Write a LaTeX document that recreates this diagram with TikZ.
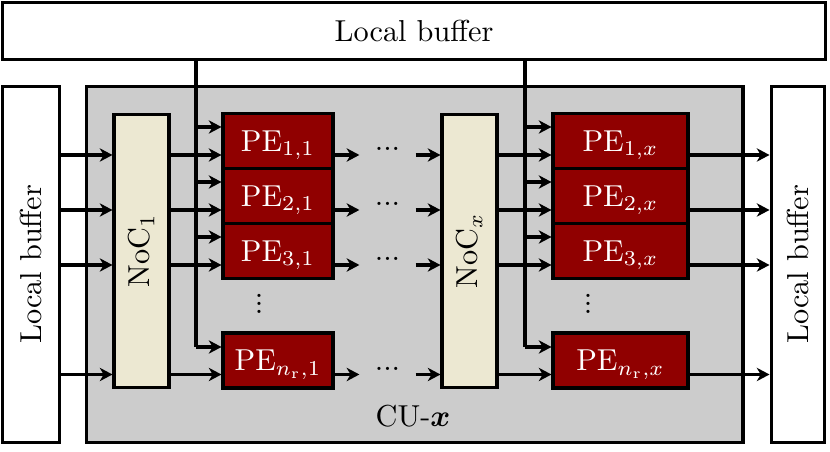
\documentclass[tikz,border=0pt]{standalone}
\usepackage{amsmath}
\usepackage{bm}
\usetikzlibrary{arrows.meta}

\definecolor{pered}{RGB}{144,0,0}
\definecolor{nocbeige}{RGB}{236,232,210}
\definecolor{cugray}{RGB}{204,204,204}

\newcommand{\smallvdots}{\vbox{\baselineskip2.7pt\lineskiplimit0pt\hbox{.}\hbox{.}\hbox{.}}}

\begin{document}
\begin{tikzpicture}[x=0.33pt,y=-0.33pt,
	box/.style={draw=black,line width=1pt,inner sep=0pt},
	buf/.style={box,fill=white},
	pe/.style={box,fill=pered,text=white,minimum height=18.15pt,text depth=0pt},
	noc/.style={box,fill=nocbeige,minimum width=18.15pt,minimum height=90.4pt},
	arr/.style={-{Stealth[length=4.2pt,width=4.4pt,inset=1.3pt]},line width=1pt},
	dotsbox/.style={inner sep=0pt,minimum width=18.15pt,text height=0pt,text depth=2.9pt}]
	
	\useasboundingbox (0,0) rectangle (830,452);
	
	\node[box,fill=cugray,minimum width=216.8pt,minimum height=117.2pt] (cu) at (414.5, 264.5) {};
	\node (culabel) at (413, 416) {CU-$\bm{x}$};
	
	\node[buf,minimum width=271.3pt,minimum height=18.5pt] (topbuf) at (414, 31)    {Local buffer};
	\node[buf,minimum width=117.2pt,minimum height=18.5pt,rotate=90] (lbuf) at (31, 264.5)   {Local buffer};
	\node[buf,minimum width=117.2pt,minimum height=17.8pt,rotate=90] (rbuf) at (798, 264.5)  {Local buffer};
	
	\node[noc] (noc1) at (141.5, 251) {\rotatebox{90}{NoC$_1$}};
	\node[noc] (nocx) at (469.5, 251) {\rotatebox{90}{NoC$_x$}};
	
	\node[pe,minimum width=36.3pt] (pe11) at (278, 141)   {PE$_{1,1}$};
	\node[pe,minimum width=36.3pt] (pe21) at (278, 196)   {PE$_{2,1}$};
	\node[pe,minimum width=36.3pt] (pe31) at (278, 251)   {PE$_{3,1}$};
	\node[pe,minimum width=36.3pt] (pen1) at (278, 360.5) {PE$_{n_\mathrm{r},1}$};
	\node[pe,minimum width=44.55pt] (pe1x) at (620.5, 141)   {PE$_{1,x}$};
	\node[pe,minimum width=44.55pt] (pe2x) at (620.5, 196)   {PE$_{2,x}$};
	\node[pe,minimum width=44.55pt] (pe3x) at (620.5, 251)   {PE$_{3,x}$};
	\node[pe,minimum width=44.55pt] (penx) at (620.5, 360.5) {PE$_{n_\mathrm{r},x}$};
	
	\node[inner sep=0pt] (vd1) at (259, 304) {\smallvdots};
	\node[inner sep=0pt] (vdx) at (588, 304) {\smallvdots};
	
	\node[dotsbox] (d1) at (387.5, 155)   {...};
	\node[dotsbox] (d2) at (387.5, 210)   {...};
	\node[dotsbox] (d3) at (387.5, 265)   {...};
	\node[dotsbox] (d4) at (387.5, 374.5) {...};
	
	% bus lines from the top buffer
	\coordinate (t11) at (196, 127);
	\coordinate (t21) at (196, 182);
	\coordinate (t31) at (196, 237);
	\coordinate (tn1) at (196, 347);
	\coordinate (t1x) at (525, 127);
	\coordinate (t2x) at (525, 182);
	\coordinate (t3x) at (525, 237);
	\coordinate (tnx) at (525, 347);
	
	\draw[line width=1pt] (topbuf.south -| t11) -- (tn1);
	\draw[line width=1pt] (topbuf.south -| t1x) -- (tnx);
	
	\draw[arr] (t11) -- (pe11.west |- t11);
	\draw[arr] (t21) -- (pe21.west |- t21);
	\draw[arr] (t31) -- (pe31.west |- t31);
	\draw[arr] (tn1) -- (pen1.west |- tn1);
	\draw[arr] (t1x) -- (pe1x.west |- t1x);
	\draw[arr] (t2x) -- (pe2x.west |- t2x);
	\draw[arr] (t3x) -- (pe3x.west |- t3x);
	\draw[arr] (tnx) -- (penx.west |- tnx);
	
	% data rows
	\draw[arr] (lbuf.south |- d1) -- (noc1.west |- d1);
	\draw[arr] (lbuf.south |- d2) -- (noc1.west |- d2);
	\draw[arr] (lbuf.south |- d3) -- (noc1.west |- d3);
	\draw[arr] (lbuf.south |- d4) -- (noc1.west |- d4);
	
	\draw[arr] (noc1.east |- d1) -- (pe11.west |- d1);
	\draw[arr] (noc1.east |- d2) -- (pe21.west |- d2);
	\draw[arr] (noc1.east |- d3) -- (pe31.west |- d3);
	\draw[arr] (noc1.east |- d4) -- (pen1.west |- d4);
	
	\draw[arr] (pe11.east |- d1) -- (d1.west);
	\draw[arr] (pe21.east |- d2) -- (d2.west);
	\draw[arr] (pe31.east |- d3) -- (d3.west);
	\draw[arr] (pen1.east |- d4) -- (d4.west);
	
	\draw[arr] (d1.east) -- (nocx.west |- d1);
	\draw[arr] (d2.east) -- (nocx.west |- d2);
	\draw[arr] (d3.east) -- (nocx.west |- d3);
	\draw[arr] (d4.east) -- (nocx.west |- d4);
	
	\draw[arr] (nocx.east |- d1) -- (pe1x.west |- d1);
	\draw[arr] (nocx.east |- d2) -- (pe2x.west |- d2);
	\draw[arr] (nocx.east |- d3) -- (pe3x.west |- d3);
	\draw[arr] (nocx.east |- d4) -- (penx.west |- d4);
	
	\draw[arr] (pe1x.east |- d1) -- (rbuf.north |- d1);
	\draw[arr] (pe2x.east |- d2) -- (rbuf.north |- d2);
	\draw[arr] (pe3x.east |- d3) -- (rbuf.north |- d3);
	\draw[arr] (penx.east |- d4) -- (rbuf.north |- d4);
	
\end{tikzpicture}
\end{document}
